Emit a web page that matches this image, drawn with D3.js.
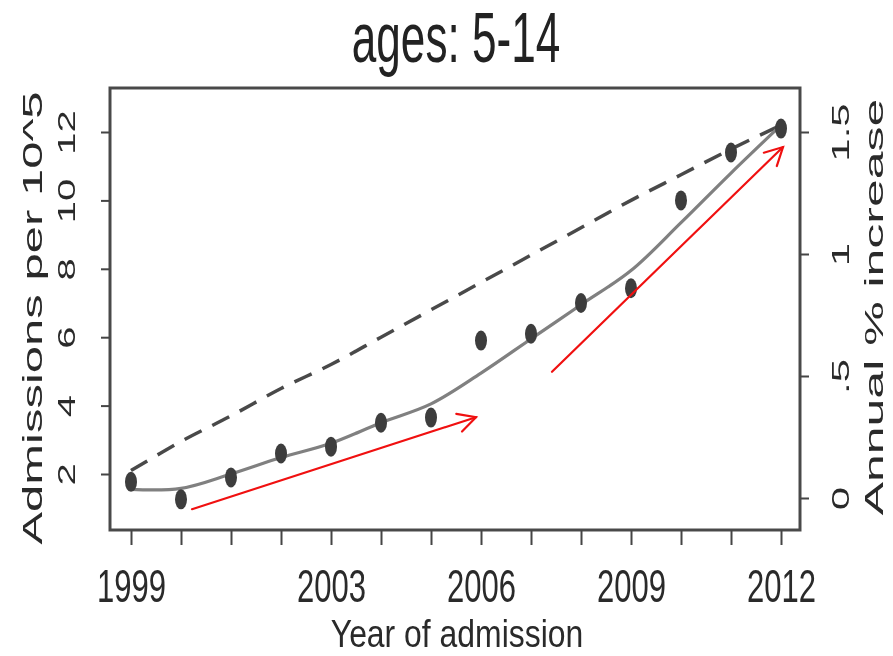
<!DOCTYPE html>
<html>
<head>
<meta charset="utf-8">
<script src="https://cdn.jsdelivr.net/npm/d3@7.9.0/dist/d3.min.js"></script>
<style>
  body { margin: 0; background: #fff; }
  svg { display: block; font-family: "Liberation Sans", Arial, sans-serif; }
</style>
</head>
<body>
<svg width="893" height="656"></svg>
<script>
// Data
const years = [1999, 2000, 2001, 2002, 2003, 2004, 2005, 2006, 2007, 2008, 2009, 2010, 2011, 2012];
const observed = [1.77, 1.26, 1.9, 2.6, 2.8, 3.5, 3.65, 5.9, 6.1, 7.0, 7.43, 10.0, 11.4, 12.1];
const fitted = [1.55, 1.58, 2.0, 2.48, 2.9, 3.5, 4.05, 4.95, 5.95, 6.95, 7.95, 9.35, 10.8, 12.2];
const annualTrend = [2.1, 2.95, 3.7, 4.5, 5.2, 6.0, 6.8, 7.6, 8.4, 9.2, 10.0, 10.75, 11.5, 12.2];
const xLabelYears = [1999, 2003, 2006, 2009, 2012];
const leftTicks = [2, 4, 6, 8, 10, 12];
const rightTicks = [0, 0.5, 1, 1.5];
// red annotation arrows: [start, end] as [year, admissions]
const arrows = [
  [[2000.22, 0.97], [2005.9, 3.66]],
  [[2007.42, 4.99], [2012.04, 11.56]]
];

const svg = d3.select('svg');
const box = { left: 110, right: 800, top: 88, bottom: 530 };

const x = d3.scaleLinear().domain([1999, 2012]).range([131, 781]);
const y = d3.scaleLinear().domain([2, 12]).range([474, 132]);
const yRight = d3.scaleLinear().domain([0, 1.5]).range([498, 132]);

// soften a bit like the scanned original
const defs = svg.append('defs');
defs.append('filter').attr('id', 'soft')
  .append('feGaussianBlur').attr('stdDeviation', 0.7);

const plot = svg.append('g').attr('filter', 'url(#soft)');

// Lines
let line = d3.line()
  .x((d, i) => x(years[i]))
  .y(d => y(d))
  .curve(d3.curveCatmullRom);

plot.append('path')
  .attr('d', line(annualTrend))
  .attr('fill', 'none')
  .attr('stroke', '#4a4a4a')
  .attr('stroke-width', 3.5)
  .attr('stroke-dasharray', '19,12');

plot.append('path')
  .attr('d', line(fitted))
  .attr('fill', 'none')
  .attr('stroke', '#808080')
  .attr('stroke-width', 3.2);

// Points
plot.selectAll('ellipse')
  .data(observed)
  .join('ellipse')
  .attr('cx', (d, i) => x(years[i]))
  .attr('cy', d => y(d))
  .attr('rx', 6)
  .attr('ry', 10)
  .attr('fill', '#3c3c3c');

// Box
plot.append('rect')
  .attr('x', box.left).attr('y', box.top)
  .attr('width', box.right - box.left).attr('height', box.bottom - box.top)
  .attr('fill', 'none').attr('stroke', '#4a4a4a').attr('stroke-width', 3);

// Bottom axis
let xAxis = d3.axisBottom(x)
  .tickValues(years)
  .tickSize(15)
  .tickFormat(d => xLabelYears.includes(d) ? d : '');
let gx = plot.append('g')
  .attr('transform', `translate(0,${box.bottom})`)
  .call(xAxis);
gx.select('.domain').remove();
gx.selectAll('line').attr('stroke', '#444').attr('stroke-width', 2);
gx.selectAll('text')
  .attr('y', null).attr('dy', null)
  .attr('transform', 'translate(0,72) scale(0.66,1)')
  .attr('font-size', 47)
  .attr('fill', '#2a2a2a');

// Left axis
let gl = plot.append('g')
  .attr('transform', `translate(${box.left},0)`)
  .call(d3.axisLeft(y).tickValues(leftTicks).tickSize(9));
gl.select('.domain').remove();
gl.selectAll('line').attr('stroke', '#444').attr('stroke-width', 2);
gl.selectAll('text')
  .attr('x', null).attr('dy', null)
  .attr('text-anchor', 'middle')
  .attr('transform', 'translate(-35,0) scale(0.6,1) rotate(-90)')
  .attr('font-size', 40)
  .attr('fill', '#2a2a2a');

// Right axis
let gr = plot.append('g')
  .attr('transform', `translate(${box.right},0)`)
  .call(d3.axisRight(yRight).tickValues(rightTicks).tickSize(9)
    .tickFormat(d => d === 0.5 ? '.5' : String(d)));
gr.select('.domain').remove();
gr.selectAll('line').attr('stroke', '#444').attr('stroke-width', 2);
gr.selectAll('text')
  .attr('x', null).attr('dy', null)
  .attr('text-anchor', 'middle')
  .attr('transform', 'translate(49,0) scale(0.55,1) rotate(-90)')
  .attr('font-size', 42)
  .attr('fill', '#2a2a2a');

// Titles
plot.append('text')
  .attr('transform', 'translate(456,62) scale(0.63,1)')
  .attr('text-anchor', 'middle')
  .attr('font-size', 70)
  .attr('fill', '#222')
  .text('ages: 5-14');

plot.append('text')
  .attr('transform', 'translate(457,647) scale(0.84,1)')
  .attr('text-anchor', 'middle')
  .attr('font-size', 38)
  .attr('fill', '#2a2a2a')
  .text('Year of admission');

plot.append('text')
  .attr('transform', 'translate(42,318) scale(0.58,1) rotate(-90)')
  .attr('text-anchor', 'middle')
  .attr('font-size', 49)
  .attr('fill', '#2a2a2a')
  .text('Admissions per 10^5');

plot.append('text')
  .attr('transform', 'translate(883,307) scale(0.52,1) rotate(-90)')
  .attr('text-anchor', 'middle')
  .attr('font-size', 50)
  .attr('fill', '#2a2a2a')
  .text('Annual % increase');

// Red arrows
const headLen = 20, headAngle = Math.PI / 6.5;
arrows.forEach(([a, b]) => {
  let x1 = x(a[0]), y1 = y(a[1]), x2 = x(b[0]), y2 = y(b[1]);
  let ang = Math.atan2(y2 - y1, x2 - x1);
  let g = svg.append('g')
    .attr('stroke', '#f01010').attr('stroke-width', 2.2).attr('fill', 'none')
    .attr('stroke-linecap', 'round');
  g.append('line').attr('x1', x1).attr('y1', y1).attr('x2', x2).attr('y2', y2);
  g.append('path').attr('d', d3.line()([
    [x2 - headLen * Math.cos(ang - headAngle), y2 - headLen * Math.sin(ang - headAngle)],
    [x2, y2],
    [x2 - headLen * Math.cos(ang + headAngle), y2 - headLen * Math.sin(ang + headAngle)]
  ]));
});
</script>
</body>
</html>
